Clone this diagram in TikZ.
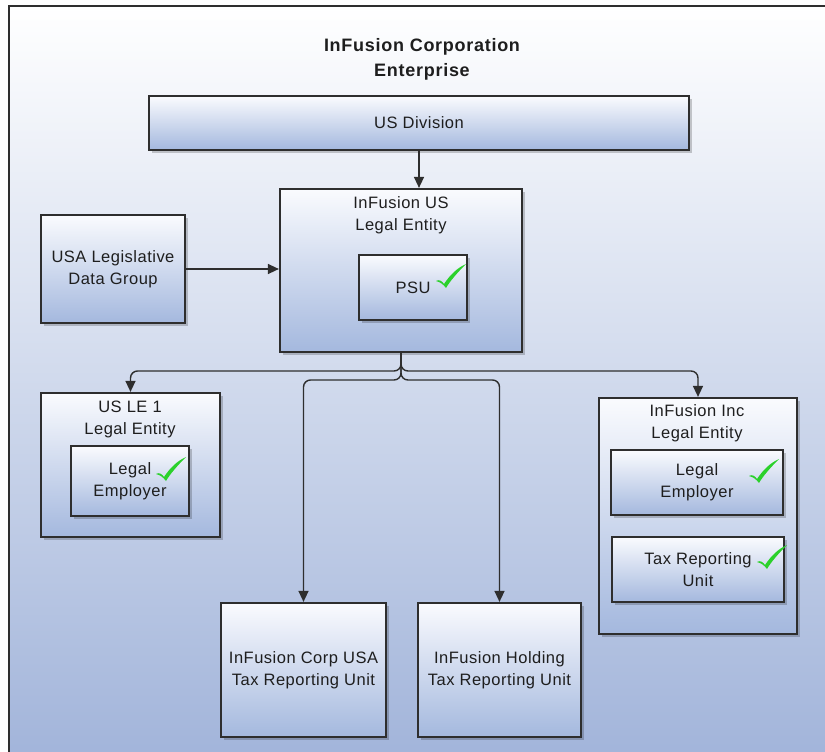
\documentclass[tikz,border=0pt]{standalone}
\usepackage{fontspec}
\setmainfont{Liberation Sans}
\newfontfamily\lblfont[LetterSpace=3]{Liberation Sans}
\newfontfamily\ttlfont[LetterSpace=4]{Liberation Sans}
\usetikzlibrary{arrows.meta,shadows}
\definecolor{bgbot}{HTML}{9FB2D9}
\definecolor{boxtop}{HTML}{FAFBFE}
\definecolor{boxbot}{HTML}{A4B8DE}
\definecolor{edge}{HTML}{2E2E2E}
\definecolor{ink}{HTML}{1E1E1E}
\definecolor{chk}{HTML}{2BD12B}
\tikzset{
  box/.style={draw=edge, line width=2.2pt, shading=axis, top color=boxtop, bottom color=boxbot,
    drop shadow={shadow xshift=2.5pt,shadow yshift=-2.5pt,fill=black,opacity=0.2},
    inner sep=0pt, text=ink, font=\lblfont\fontsize{16.5}{22}\selectfont, align=center},
  lbl/.style={text=ink, font=\lblfont\fontsize{16.5}{22}\selectfont, align=center, inner sep=0pt},
  conn/.style={draw=edge, line width=1.4pt, -{Triangle[length=11pt,width=10pt]}, rounded corners=7pt},
  chkmark/.pic={\fill[chk] (-9,-6) .. controls (-6,-8) and (-3,-6) .. (-1,-3)
      .. controls (5,-12) and (12,-19) .. (21,-23)
      .. controls (13,-15) and (5,-6) .. (1,1)
      .. controls (-2,-3) and (-5,-5) .. (-9,-6) -- cycle;}
}
\begin{document}
\begin{tikzpicture}[x=1pt,y=-1pt]
\useasboundingbox (0,0) rectangle (825,752);
\clip (0,0) rectangle (825,752);
\fill[white] (0,0) rectangle (825,752);
\shade[top color=white, bottom color=bgbot] (9,6) rectangle (850,780);
\draw[edge, line width=2.5pt] (9,6) rectangle (850,780);

\node[text=ink, font=\ttlfont\bfseries\fontsize{18}{25}\selectfont, align=center, inner sep=0pt] (title) at (422,59.5) {InFusion Corporation\\Enterprise};

\node[box, minimum width=540pt, minimum height=54pt] (div) at (419,123) {US Division};
\node[box, minimum width=242pt, minimum height=163pt] (us) at (401,270.5) {};
\node[lbl] (usT) at (401,215) {InFusion US\\Legal Entity};
\node[box, minimum width=108pt, minimum height=65pt] (psu) at (413,287.5) {PSU};
\node[box, minimum width=144pt, minimum height=108pt] (ldg) at (113,269) {USA Legislative\\Data Group};

\node[box, minimum width=179pt, minimum height=144pt] (le1) at (130.5,465) {};
\node[lbl] (le1T) at (130,419) {US LE 1\\Legal Entity};
\node[box, minimum width=118pt, minimum height=70pt] (le1e) at (130,481) {Legal\\Employer};

\node[box, minimum width=198pt, minimum height=236pt] (inc) at (698,516) {};
\node[lbl] (incT) at (697,423.5) {InFusion Inc\\Legal Entity};
\node[box, minimum width=172pt, minimum height=65pt] (ince) at (697,482.5) {Legal\\Employer};
\node[box, minimum width=172pt, minimum height=65pt] (inct) at (698,569.5) {Tax Reporting\\Unit};

\node[box, minimum width=165pt, minimum height=134pt] (tru1) at (303.5,670) {InFusion Corp USA\\Tax Reporting Unit};
\node[box, minimum width=163pt, minimum height=134pt] (tru2) at (499.5,670) {InFusion Holding\\Tax Reporting Unit};

\pic at (445,287) {chkmark};
\pic at (165,480) {chkmark};
\pic at (758,482) {chkmark};
\pic at (766,568) {chkmark};

\coordinate (hj) at (401,371);
\coordinate (hk) at (401,380);
\draw[conn] (div.south) -- (div.south |- us.north);
\draw[conn] (ldg.east) -- (ldg.east -| us.west);
\draw[conn] (us.south) -- (hj) -| (le1.north);
\draw[conn] (us.south) -- (hj) -| (inc.north);
\draw[conn] (us.south) -- (hk) -| (tru1.north);
\draw[conn] (us.south) -- (hk) -| (tru2.north);
\end{tikzpicture}
\end{document}
